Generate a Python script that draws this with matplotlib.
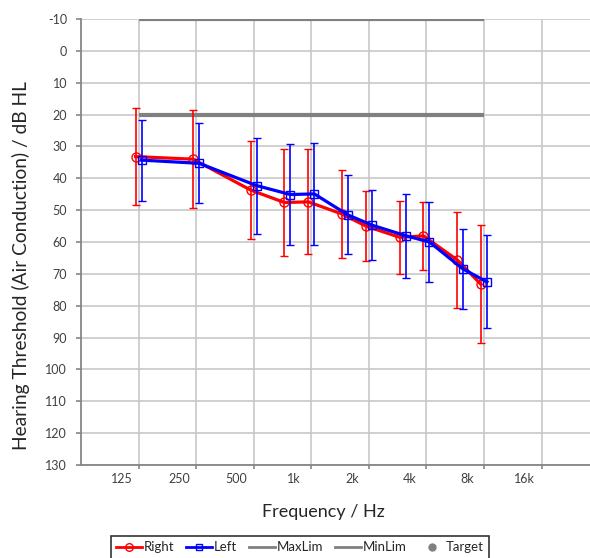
import matplotlib
matplotlib.use("Agg")
import matplotlib.pyplot as plt
import matplotlib.transforms as mtransforms
from matplotlib.lines import Line2D
import numpy as np

freqs = [125, 250, 500, 750, 1000, 1500, 2000, 3000, 4000, 6000, 8000]
right_mean = [33.2, 34.0, 43.7, 47.6, 47.4, 51.2, 55.0, 58.5, 58.1, 65.6, 73.3]
right_sd = [15.2, 15.4, 15.4, 16.7, 16.5, 13.7, 11.1, 11.5, 10.6, 15.0, 18.5]
left_mean = [34.3, 35.3, 42.3, 45.1, 44.9, 51.5, 54.7, 58.0, 60.0, 68.5, 72.5]
left_sd = [12.7, 12.6, 15.1, 15.9, 16.0, 12.4, 11.1, 13.2, 12.5, 12.5, 14.6]
lim_freqs = [125, 8000]
max_lim = [-10, -10]
min_lim = [20, 20]
tick_freqs = [125, 250, 500, 1000, 2000, 4000, 8000, 16000]
tick_labels = ["125", "250", "500", "1k", "2k", "4k", "8k", "16k"]
y_ticks = list(range(-10, 131, 10))

FONT = "Lato"
plt.rcParams['font.family'] = [FONT, 'DejaVu Sans']

W, H = 590, 558
fig = plt.figure(figsize=(W / 100, H / 100), dpi=100)
ax_left, ax_right, ax_top, ax_bot = 81, 590, 19, 465
ax = fig.add_axes([ax_left / W, 1 - ax_bot / H, (ax_right - ax_left) / W, (ax_bot - ax_top) / H])

octave_px = 57.57
x0 = 62.5
x1 = x0 * 2 ** ((ax_right - ax_left) / octave_px)
ax.set_xscale('log')
ax.set_xlim(x0, x1)
ax.set_ylim(130, -10)

grid_c = '#c8c8c8'
for f in tick_freqs + [32000]:
    ax.axvline(f, color=grid_c, lw=1.2, zorder=0)
for y in y_ticks:
    ax.axhline(y, color=grid_c, lw=1.2, zorder=0)

# limits
ax.plot(lim_freqs, max_lim, color='#808080', lw=3, solid_capstyle='butt', zorder=2)
ax.plot(lim_freqs, min_lim, color='#808080', lw=3, solid_capstyle='butt', zorder=2)

off_r = mtransforms.offset_copy(ax.transData, fig=fig, x=-3, y=0, units='dots')
off_l = mtransforms.offset_copy(ax.transData, fig=fig, x=3, y=0, units='dots')

ax.errorbar(freqs, right_mean, yerr=right_sd, color='#ff0000', lw=2.3, marker='o',
            ms=6.5, mfc='none', mec='#ff0000', mew=1.0, elinewidth=1.2, capsize=3,
            capthick=1.2, transform=off_r, zorder=3)
ax.errorbar(freqs, left_mean, yerr=left_sd, color='#0000ff', lw=2.3, marker='s',
            ms=5.5, mfc='none', mec='#0000ff', mew=1.0, elinewidth=1.2, capsize=3,
            capthick=1.2, transform=off_l, zorder=4)

ax.set_yticks(y_ticks)
ax.set_yticklabels([str(v) for v in y_ticks])
ax.set_xticks(tick_freqs)
ax.set_xticklabels(tick_labels)
ax.xaxis.set_minor_locator(matplotlib.ticker.NullLocator())
ax.tick_params(axis='both', direction='out', width=1.2, color='#868686',
               labelsize=9, labelcolor='#404040')
ax.tick_params(axis='y', length=3.5, pad=6.5)
ax.tick_params(axis='x', length=3, pad=3)
for lab in ax.get_xticklabels():
    lab.set_transform(lab.get_transform() + mtransforms.ScaledTranslation(-17 / 100, 0, fig.dpi_scale_trans))

for s in ['top', 'right']:
    ax.spines[s].set_visible(False)
for s in ['left', 'bottom']:
    ax.spines[s].set_color('#868686')
    ax.spines[s].set_linewidth(1.3)

fig.text(21 / W, 1 - 265.5 / H, "Hearing Threshold (Air Conduction) / dB HL", rotation=90,
         ha='center', va='center', fontsize=13.8, color='#262626')
fig.text(323 / W, 1 - 512 / H, "Frequency / Hz", ha='center', va='center',
         fontsize=13, color='#262626')

handles = [
    Line2D([], [], color='#ff0000', lw=2, marker='o', ms=5.5, mfc='none', mec='#ff0000'),
    Line2D([], [], color='#0000ff', lw=2, marker='s', ms=5, mfc='none', mec='#0000ff'),
    Line2D([], [], color='#808080', lw=2),
    Line2D([], [], color='#808080', lw=2),
    Line2D([], [], color='#808080', lw=0, marker='o', ms=5),
]
labels = ["Right", "Left", "MaxLim", "MinLim", "Target"]
leg = fig.legend(handles, labels, loc='upper center', bbox_to_anchor=(300 / W, 1 - 536 / H),
                 ncol=5, frameon=True, fontsize=9.5, handlelength=2.0, handletextpad=0.1,
                 columnspacing=0.9, borderaxespad=0, fancybox=False, borderpad=0.4)
leg.get_frame().set_edgecolor('#000000')
leg.get_frame().set_linewidth(1.2)
for t in leg.get_texts():
    t.set_color('#262626')

fig.savefig("out.png", dpi=100)
